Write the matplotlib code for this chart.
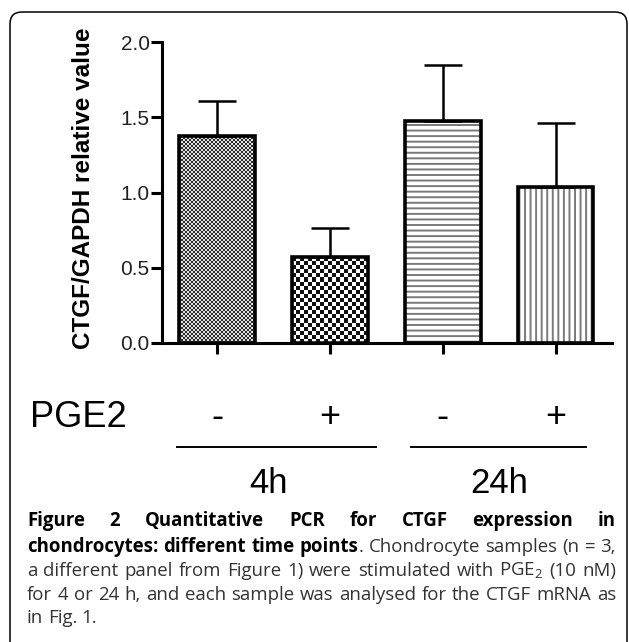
import matplotlib
matplotlib.use('Agg')
import numpy as np
import matplotlib.pyplot as plt
from matplotlib.colors import ListedColormap
from matplotlib.patches import FancyBboxPatch
from matplotlib.transforms import blended_transform_factory

# data
groups = ['4h', '24h']
pge2 = ['-', '+', '-', '+']
means = [1.377, 0.569, 1.477, 1.039]
sem = [0.233, 0.197, 0.370, 0.425]
yticks = [0.0, 0.5, 1.0, 1.5, 2.0]
ylabel = 'CTGF/GAPDH relative value'

caption = [
    [("Figure 2 Quantitative PCR for CTGF expression in", True)],
    [("chondrocytes: different time points", True), (". Chondrocyte samples (n = 3,", False)],
    [("a different panel from Figure 1) were stimulated with PGE$_2$ (10 nM)", False)],
    [("for 4 or 24 h, and each sample was analysed for the CTGF mRNA as", False)],
    [("in Fig. 1.", False)],
]

plt.rcParams['font.family'] = ['Liberation Sans', 'DejaVu Sans']
plt.rcParams['mathtext.fontset'] = 'custom'
plt.rcParams['mathtext.rm'] = 'Open Sans'
plt.rcParams['hatch.linewidth'] = 1.4

W, H = 629, 642
fig = plt.figure(figsize=(W / 100, H / 100), dpi=100)

# main axes (pixel placement from the reference)
ax_left, ax_right, ax_top, ax_bot = 162, 612, 42, 343
ax = fig.add_axes([ax_left / W, 1 - ax_bot / H, (ax_right - ax_left) / W, (ax_bot - ax_top) / H])
ax.set_xlim(-0.49, 3.5)
ax.set_ylim(0, 2.0)

x = np.arange(len(means))
bw = 0.67

# fills
base = ax.bar(x, means, bw, color='none', linewidth=0, zorder=1)
ax.bar(x[2:3], means[2:3], bw, color='white', edgecolor='#7a7a7a', linewidth=0, hatch='---', zorder=1)
ax.bar(x[3:4], means[3:4], bw, color='white', edgecolor='#7a7a7a', linewidth=0, hatch='|||', zorder=1)


def checker(rect, cell_px, c1, c2):
    x0, y0 = rect.get_x(), rect.get_y()
    w, h = rect.get_width(), rect.get_height()
    p0 = ax.transData.transform((x0, y0))
    p1 = ax.transData.transform((x0 + w, y0 + h))
    nx = max(1, int(round(abs(p1[0] - p0[0]) / cell_px)))
    ny = max(1, int(round(abs(p1[1] - p0[1]) / cell_px)))
    arr = np.add.outer(np.arange(ny), np.arange(nx)) % 2
    im = ax.imshow(arr, extent=(x0, x0 + w, y0, y0 + h), origin='lower',
                   cmap=ListedColormap([c1, c2]), interpolation='nearest',
                   aspect='auto', zorder=1)
    im.set_clip_path(rect)


checker(base.patches[0], 2, '#2a2a2a', '#e0e0e0')
checker(base.patches[1], 4, '#111111', '#ffffff')

# error bars (upper only) and outlines
ax.errorbar(x, means, yerr=[np.zeros(len(sem)), sem], fmt='none', ecolor='black',
            elinewidth=1.8, capsize=14, capthick=1.8, zorder=2)
ax.bar(x, means, bw, fill=False, edgecolor='black', linewidth=2.6, zorder=3)

ax.set_xlim(-0.49, 3.5)
ax.set_ylim(0, 2.0)
for s in ['top', 'right']:
    ax.spines[s].set_visible(False)
for s in ['left', 'bottom']:
    ax.spines[s].set_linewidth(2.2)
ax.set_yticks(yticks)
ax.set_yticklabels(['%.1f' % v for v in yticks], fontsize=15, color='#222222')
ax.set_xticks(x)
ax.set_xticklabels([])
ax.tick_params(axis='both', direction='out', length=8, width=2.2, pad=1)

# overlay in pixel coords for annotations
axp = fig.add_axes([0, 0, 1, 1], zorder=5)
axp.set_xlim(0, W)
axp.set_ylim(H, 0)
axp.axis('off')

axp.add_patch(FancyBboxPatch((10, 12), 617, 700, boxstyle='round,pad=0,rounding_size=12',
                             fill=False, edgecolor='black', linewidth=1.1))

axp.text(84, 188, ylabel, rotation=90, ha='center', va='center', fontsize=17.5, fontweight='bold')

bt = blended_transform_factory(ax.transData, axp.transData)
axp.text(30, 427, 'PGE2', fontsize=26, ha='left', va='baseline')
for xi, s in zip(x, pge2):
    axp.text(xi, 427, s, transform=bt, fontsize=26, ha='center', va='baseline')
axp.plot([-0.36, 1.41], [447, 447], transform=bt, color='black', lw=1.4)
axp.plot([1.72, 3.27], [447, 447], transform=bt, color='black', lw=1.4)
for xc, g in zip([0.45, 2.5], groups):
    axp.text(xc, 493, g, transform=bt, fontsize=25, ha='center', va='baseline')

# justified caption
fig.canvas.draw()
rend = fig.canvas.get_renderer()
cap_left, cap_right = 27, 616
baselines = [526, 552, 576, 600, 623]
cap_font = ['Open Sans', 'DejaVu Sans']
cap_size = 13.4

for li, runs in enumerate(caption):
    words = []
    for text, bold in runs:
        parts = text.split(' ')
        for pi, p in enumerate(parts):
            if p == '':
                continue
            if pi == 0 and not text.startswith(' ') and words:
                words[-1].append((p, bold))
            else:
                words.append([(p, bold)])
    placed = []
    total = 0
    for wd in words:
        items = []
        for s, bold in wd:
            t = axp.text(0, baselines[li], s, fontsize=cap_size, family=cap_font,
                         fontweight='bold' if bold else 'normal',
                         color='black' if bold else '#333333', ha='left', va='baseline')
            wpx = t.get_window_extent(rend).width
            items.append((t, wpx))
            total += wpx
        placed.append(items)
    if li < len(caption) - 1:
        gap = (cap_right - cap_left - total) / (len(placed) - 1)
    else:
        gap = 4.5
    cx = cap_left
    for items in placed:
        for t, wpx in items:
            t.set_x(cx)
            cx += wpx
        cx += gap

fig.savefig('out.png', dpi=100)
